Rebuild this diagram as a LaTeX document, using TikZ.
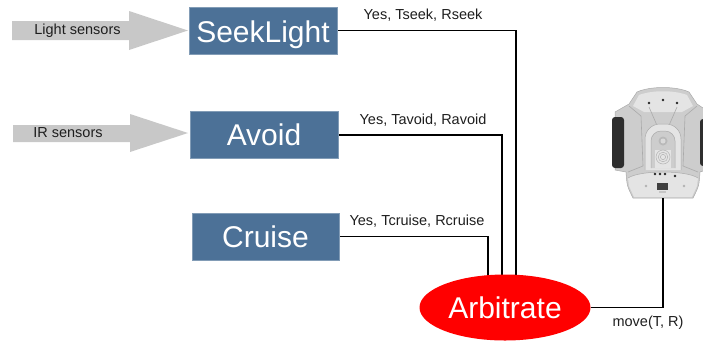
\documentclass[tikz,border=0pt]{standalone}
\usepackage{fontspec}
\setmainfont{Liberation Sans}
\usetikzlibrary{calc,backgrounds,shapes.geometric}
\definecolor{boxblue}{RGB}{76,113,151}
\definecolor{arrgray}{RGB}{200,200,200}
\definecolor{txtgray}{RGB}{30,30,30}
\definecolor{robotbody}{RGB}{205,205,205}
\definecolor{robotlight}{RGB}{228,228,228}
\definecolor{robotline}{RGB}{170,170,170}
\tikzset{
  bigbox/.style={fill=boxblue, draw=boxblue!70!white, line width=0.6pt, inner sep=0pt,
    minimum width=148pt, minimum height=47pt, text=white,
    text height=21.5pt, text depth=0pt,
    font=\fontsize{30}{34}\selectfont},
  lbl/.style={text=txtgray, inner sep=0pt, font=\fontsize{14.5}{17}\selectfont},
  conn/.style={draw=black, line width=1.1pt},
  sensarrow/.style={fill=arrgray},
}
\begin{document}
\begin{tikzpicture}[x=1pt,y=-1pt]
\useasboundingbox (0,0) rectangle (703,341);
\clip (0,0) rectangle (703,341);
% sensor arrows
\fill[sensarrow] (12,21) -- (129,21) -- (129,11) -- (188,30.5) -- (129,50) -- (129,40) -- (12,40) -- cycle;
\node[lbl] (lightlbl) at (77.5,31) {Light sensors};
\fill[sensarrow] (13,125) -- (130,125) -- (130,114) -- (188,133) -- (130,152) -- (130,142) -- (13,142) -- cycle;
\node[lbl] (irlbl) at (68,133) {IR sensors};
% behaviour boxes
\node[bigbox, text height=23.5pt] (seek) at (263,30.5) {SeekLight};
\node[bigbox] (avoid) at (264,135) {Avoid};
\node[bigbox, minimum width=147pt] (cruise) at (265.5,236.5) {Cruise};
% arbitrate
\node[ellipse, fill=red, minimum width=171pt, minimum height=66pt, inner sep=0pt,
  text height=21.5pt, text depth=0pt,
  text=white, font=\fontsize{30}{34}\selectfont] (arb) at (505,307.5) {Arbitrate};
% robot
\begin{scope}
\filldraw[fill=robotbody, draw=robotline, line width=0.5pt]
  (637,92) .. controls (650,86) and (676,86) .. (689,92) -- (697,104) -- (706,110)
  -- (706,170) -- (700,172) .. controls (699,186) .. (693,198) -- (633,198)
  .. controls (627,186) .. (626,172) -- (615,170) -- (615,112) -- (629,104) -- cycle;
% lighter upper chest
\fill[robotlight] (639,95) .. controls (652,90) and (674,90) .. (687,95) -- (693,106)
  -- (682,112) -- (644,112) -- (633,106) -- cycle;
\draw[robotline, line width=0.6pt] (649,107) -- (659,130) (677,107) -- (667,130);
\draw[robotline, line width=0.6pt] (629,106) -- (641,116) -- (643,166) -- (628,172);
\draw[robotline, line width=0.6pt] (697,106) -- (685,116) -- (683,166) -- (698,172);
% central arch panel
\filldraw[fill=robotlight, draw=robotline, line width=0.5pt, rounded corners=15] (645,170) -- (645,124) -- (681,124) -- (681,170);
\filldraw[fill=robotbody, draw=robotline, line width=0.5pt, rounded corners=10] (651,168) -- (651,131) -- (675,131) -- (675,168);
\fill[robotlight] (655,168) rectangle (671,150);
\fill[gray!55] (663,141) circle (4.5);
\fill[gray!30] (663,141) circle (2.5);
\draw[gray!60, line width=0.5pt] (663,157) circle (7) (663,157) circle (4.8) (663,157) circle (2.6);
% lower band
\fill[robotlight] (628,178) .. controls (640,170) and (686,170) .. (698,178) -- (697,186) .. controls (695,192) .. (692,197) -- (634,197) .. controls (631,192) .. (629,186) -- cycle;
\draw[robotline, line width=0.5pt] (628,178) .. controls (640,170) and (686,170) .. (698,178);
% wheels
\fill[black!82, rounded corners=3] (612,117) rectangle (624,168);
\fill[black!82, rounded corners=3] (700,119) rectangle (712,166);
% details
\fill[black!85] (649,103) circle (1.4) (663,100) circle (1.4) (677,103) circle (1.4);
\fill[black!85] (655,174) circle (1.4) (660,174) circle (1.4) (665,174) circle (1.4) (675,176) circle (1.4);
\fill[black!75] (657,183) rectangle (668,190);
\fill[gray!45] (659,191) rectangle (666,193);
\fill[gray!60] (646,186) circle (1.3) (684,186) circle (1.3);
\coordinate (robot) at (663,198);
\end{scope}
% connectors
\begin{scope}[on background layer]
\draw[conn] (seek.east) -| ($(arb.center)+(11,0)$);
\draw[conn] (avoid.east) -| ($(arb.center)+(-3,0)$);
\draw[conn] (cruise.east) -| ($(arb.center)+(-17,0)$);
\end{scope}
\draw[conn] (arb.east) -| (robot);
% labels
\node[lbl] (seeklbl) at (423,15) {Yes, Tseek, Rseek};
\node[lbl] (avoidlbl) at (423,120) {Yes, Tavoid, Ravoid};
\node[lbl] (cruiselbl) at (417,221) {Yes, Tcruise, Rcruise};
\node[lbl] (movelbl) at (648,323) {move(T, R)};
\end{tikzpicture}
\end{document}
